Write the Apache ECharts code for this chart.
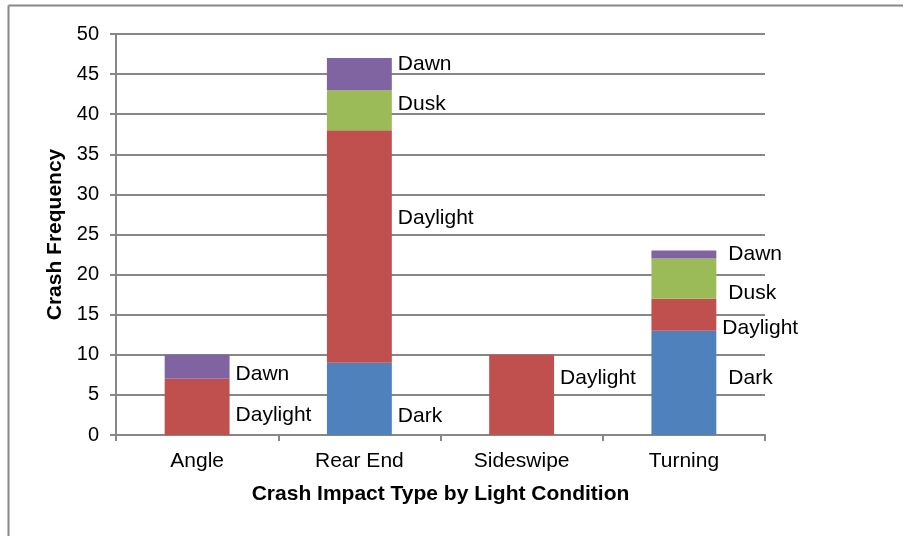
<!DOCTYPE html>
<html>
<head>
<meta charset="utf-8">
<script src="https://cdn.jsdelivr.net/npm/echarts@6/dist/echarts.min.js"></script>
<style>
  html, body { margin: 0; padding: 0; background: #fff; }
  #chart { width: 911px; height: 536px; }
</style>
</head>
<body>
<div id="chart"></div>
<script>
// categories and series values (null = no segment)
const categories = ['Angle', 'Rear End', 'Sideswipe', 'Turning']
const dark = [null, 9, null, 13]
const daylight = [7, 29, 10, 4]
const dusk = [null, 5, null, 5]
const dawn = [3, 4, null, 1]

// label nudges [dx, dy] relative to the segment's right-middle
const labelOffsets = {
  Dark: [[0, 0], [0, 17], [0, 0], [6, -5]],
  Daylight: [[0, 8], [0, -28], [0, -17], [0, 14]],
  Dusk: [[0, 0], [0, -6], [0, 0], [6, 15]],
  Dawn: [[0, 7], [0, -10], [0, 0], [6, 0]]
}

const font = 'Liberation Sans, Arial, sans-serif'
const gray = '#878787'

function makeSeries (name, values, color) {
  return {
    name: name,
    type: 'bar',
    stack: 'total',
    barWidth: '40%',
    itemStyle: { color: color },
    label: {
      show: true,
      position: 'right',
      distance: 6,
      formatter: '{a}',
      color: '#000',
      fontFamily: font,
      fontSize: 21
    },
    data: values.map((v, i) => ({
      value: v,
      label: { offset: labelOffsets[name][i] }
    }))
  }
}

const chart = echarts.init(document.getElementById('chart'))
chart.setOption({
  animation: false,
  grid: { left: 116, right: 146, top: 34, bottom: 101 },
  graphic: [
    { type: 'line', shape: { x1: 8.5, y1: 5.5, x2: 8.5, y2: 536 }, style: { stroke: gray, lineWidth: 2 } },
    { type: 'line', shape: { x1: 8.5, y1: 5.5, x2: 903, y2: 5.5 }, style: { stroke: gray, lineWidth: 2 } }
  ],
  xAxis: {
    type: 'category',
    data: categories,
    name: 'Crash Impact Type by Light Condition',
    nameLocation: 'middle',
    nameGap: 49,
    nameTextStyle: { fontFamily: font, fontSize: 21, fontWeight: 'bold', color: '#000' },
    axisLine: { lineStyle: { color: gray, width: 2 } },
    axisTick: { show: true, length: 6, lineStyle: { color: gray, width: 2 } },
    axisLabel: { fontFamily: font, fontSize: 21, color: '#000', margin: 16 }
  },
  yAxis: {
    type: 'value',
    min: 0,
    max: 50,
    interval: 5,
    name: 'Crash Frequency',
    nameLocation: 'middle',
    nameGap: 50,
    nameTextStyle: { fontFamily: font, fontSize: 21, fontWeight: 'bold', color: '#000' },
    axisLine: { show: true, lineStyle: { color: gray, width: 2 } },
    axisTick: { show: true, length: 6, lineStyle: { color: gray, width: 2 } },
    axisLabel: { fontFamily: font, fontSize: 20, color: '#000', margin: 17 },
    splitLine: { lineStyle: { color: gray, width: 2 } }
  },
  series: [
    makeSeries('Dark', dark, '#4F81BD'),
    makeSeries('Daylight', daylight, '#C0504D'),
    makeSeries('Dusk', dusk, '#9BBB59'),
    makeSeries('Dawn', dawn, '#8064A2')
  ]
})
</script>
</body>
</html>
